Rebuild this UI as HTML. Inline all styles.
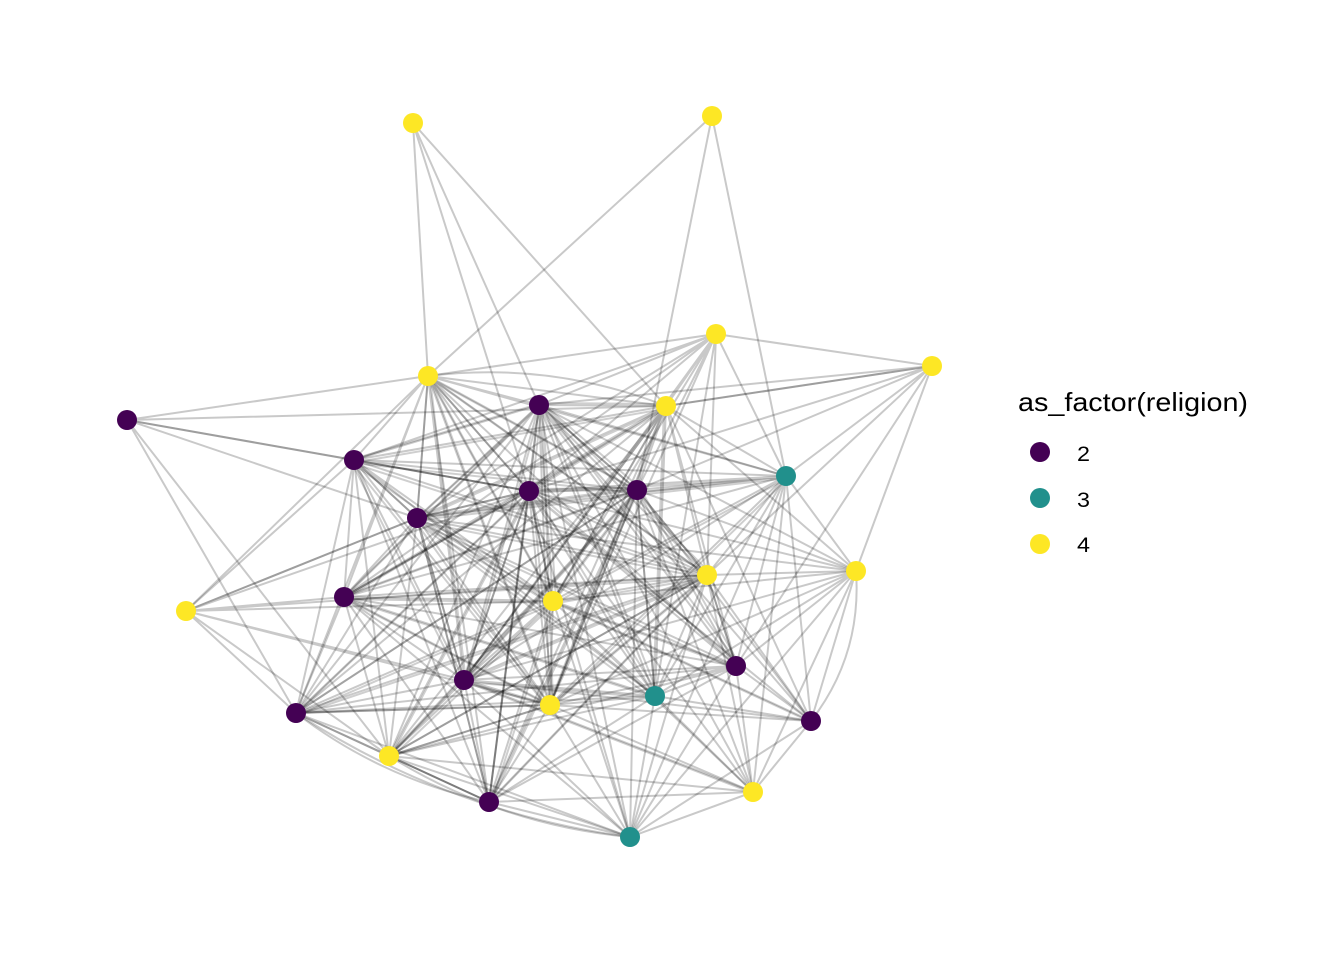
<!DOCTYPE html>
<html>
<head>
<meta charset="utf-8">
<style>
html,body{margin:0;padding:0;background:#fff;}
svg{display:block;}
</style>
</head>
<body>
<svg width="1344" height="960" viewBox="0 0 1344 960" xmlns="http://www.w3.org/2000/svg">
<rect width="1344" height="960" fill="#fff"/>
<g stroke="#000" stroke-opacity="0.21" stroke-width="2" fill="none" stroke-linecap="round">
<!-- A -->
<path d="M413 123L428 376M413 123L539 405M413 123L529 491M413 123L666 406"/>
<!-- B -->
<path d="M712 116L428 376M712 116L637 490M712 116L786 476"/>
<!-- C -->
<path d="M716 334L932 366M716 334L786 476M716 334L428 376M716 334L539 405M716 334L666 406M716 334L529 491M716 334L637 490M716 334L354 460M716 334L417 518M716 334L707 575M716 334L553 601M716 334L550 705M716 334L655 696M716 334L344 597M716 334L464 680"/>
<!-- D -->
<path d="M932 366L666 406M932 366L539 405M932 366L529 491M932 366L637 490M932 366L707 575M932 366L786 476M932 366L736 666M932 366L856 571"/>
<path d="M932 366L666 406"/>
<!-- F -->
<path d="M127 420L428 376M127 420L666 406M127 420L354 460M127 420L529 491M127 420L417 518M127 420L296 713M127 420L389 756"/>
<path d="M127 420L354 460"/>
<!-- E -->
<path d="M428 376L539 405M428 376L666 406M428 376L354 460M428 376L529 491M428 376L637 490M428 376L417 518M428 376L707 575M428 376L344 597M428 376L553 601M428 376L464 680M428 376L550 705M428 376L786 476M428 376L655 696M428 376L186 611M428 376L296 713M428 376L489 802M428 376L736 666"/>
<path d="M428 376L529 491M428 376L417 518"/>
<path d="M428 376Q551 361 666 406"/>
<!-- G -->
<path d="M539 405L666 406M539 405L354 460M539 405L529 491M539 405L637 490M539 405L417 518M539 405L707 575M539 405L344 597M539 405L553 601M539 405L736 666M539 405L464 680M539 405L655 696M539 405L550 705M539 405L296 713M539 405L389 756M539 405L489 802M539 405L786 476M539 405L811 721M539 405L753 792M539 405L630 837M539 405L856 571"/>
<path d="M539 405L637 490M539 405L529 491"/>
<!-- H -->
<path d="M666 406L354 460M666 406L529 491M666 406L637 490M666 406L417 518M666 406L707 575M666 406L344 597M666 406L553 601M666 406L464 680M666 406L655 696M666 406L550 705M666 406L786 476M666 406L856 571M666 406L736 666M666 406L489 802M666 406L389 756M666 406L296 713M666 406L811 721"/>
<!-- I -->
<path d="M354 460L529 491M354 460L637 490M354 460L417 518M354 460L707 575M354 460L344 597M354 460L553 601M354 460L464 680M354 460L550 705M354 460L296 713M354 460L389 756M354 460L489 802M354 460L786 476M354 460L186 611M354 460L655 696"/>
<path d="M354 460L417 518M354 460L529 491"/>
<!-- J -->
<path d="M786 476L529 491M786 476L637 490M786 476L417 518M786 476L707 575M786 476L856 571M786 476L553 601M786 476L736 666M786 476L655 696M786 476L550 705M786 476L811 721M786 476L753 792M786 476L344 597M786 476L464 680M786 476L630 837"/>
<!-- K -->
<path d="M529 491L637 490M529 491L417 518M529 491L707 575M529 491L344 597M529 491L553 601M529 491L736 666M529 491L464 680M529 491L655 696M529 491L550 705M529 491L296 713M529 491L389 756M529 491L489 802M529 491L630 837M529 491L856 571M529 491L811 721M529 491L753 792"/>
<path d="M529 491L464 680M529 491L489 802M529 491L553 601M529 491L417 518"/>
<!-- L -->
<path d="M637 490L417 518M637 490L707 575M637 490L344 597M637 490L553 601M637 490L736 666M637 490L464 680M637 490L655 696M637 490L550 705M637 490L296 713M637 490L389 756M637 490L489 802M637 490L630 837M637 490L856 571M637 490L811 721M637 490L753 792"/>
<path d="M637 490L655 696M637 490L550 705M637 490L707 575"/>
<!-- M -->
<path d="M417 518L707 575M417 518L344 597M417 518L553 601M417 518L736 666M417 518L464 680M417 518L655 696M417 518L550 705M417 518L296 713M417 518L389 756M417 518L489 802M417 518L186 611M417 518L856 571"/>
<path d="M417 518L464 680M417 518L489 802"/>
<!-- N -->
<path d="M707 575L856 571M707 575L344 597M707 575L553 601M707 575L736 666M707 575L464 680M707 575L655 696M707 575L550 705M707 575L296 713M707 575L811 721M707 575L389 756M707 575L753 792M707 575L489 802M707 575L630 837"/>
<path d="M707 575L389 756M707 575L736 666"/>
<!-- O -->
<path d="M856 571L736 666M856 571L655 696M856 571L550 705M856 571L811 721M856 571L753 792M856 571L553 601M856 571L630 837M856 571L464 680"/>
<path d="M856 571Q862 655 811 721"/>
<!-- P -->
<path d="M186 611L417 518M186 611L529 491M186 611L344 597M186 611L553 601M186 611L464 680M186 611L550 705M186 611L296 713M186 611L389 756M186 611L707 575"/>
<!-- Q -->
<path d="M344 597L553 601M344 597L464 680M344 597L655 696M344 597L550 705M344 597L296 713M344 597L389 756M344 597L489 802M344 597L736 666M344 597L630 837"/>
<!-- R -->
<path d="M553 601L736 666M553 601L464 680M553 601L655 696M553 601L550 705M553 601L296 713M553 601L389 756M553 601L489 802M553 601L630 837M553 601L811 721M553 601L753 792"/>
<!-- S -->
<path d="M736 666L464 680M736 666L655 696M736 666L550 705M736 666L296 713M736 666L811 721M736 666L389 756M736 666L753 792M736 666L489 802M736 666L630 837"/>
<!-- T -->
<path d="M464 680L655 696M464 680L550 705M464 680L296 713M464 680L389 756M464 680L489 802M464 680L630 837M464 680L753 792M464 680L811 721"/>
<!-- U -->
<path d="M655 696L550 705M655 696L296 713M655 696L389 756M655 696L489 802M655 696L630 837M655 696L753 792M655 696L811 721"/>
<!-- V -->
<path d="M550 705L296 713M550 705L389 756M550 705L489 802M550 705L630 837M550 705L753 792M550 705L811 721"/>
<path d="M550 705L389 756M550 705L296 713"/>
<!-- W -->
<path d="M296 713L389 756M296 713L489 802M296 713L630 837"/>
<path d="M296 713Q382 779 489 802"/>
<path d="M296 713Q449 813 630 837"/>
<path d="M296 713L389 756M296 713L489 802"/>
<!-- Y -->
<path d="M389 756L489 802M389 756L630 837M389 756L753 792"/>
<path d="M389 756Q500 825 630 837"/>
<!-- AA -->
<path d="M489 802L630 837M489 802L753 792"/>
<!-- AB -->
<path d="M630 837L753 792M630 837L811 721"/>
<!-- Z -->
<path d="M753 792L811 721"/>
</g>
<!-- multi-edge duplicates (slightly offset) -->
<g stroke="#000" stroke-opacity="0.19" stroke-width="2" fill="none" stroke-linecap="round">
<g transform="translate(3,-2)">
<path d="M539 405L666 406M539 405L354 460M539 405L529 491M539 405L637 490M539 405L417 518M539 405L707 575M539 405L344 597M539 405L553 601M539 405L736 666M539 405L464 680M539 405L655 696M539 405L550 705"/>
<path d="M529 491L637 490M529 491L707 575M529 491L344 597M529 491L736 666M529 491L655 696M529 491L550 705M529 491L296 713M529 491L389 756"/>
<path d="M637 490L417 518M637 490L344 597M637 490L553 601M637 490L736 666M637 490L464 680M637 490L296 713M637 490L389 756M637 490L489 802"/>
</g>
<g transform="translate(-2,3)">
<path d="M666 406L354 460M666 406L529 491M666 406L417 518M666 406L344 597M666 406L553 601M666 406L464 680M666 406L655 696M666 406L550 705"/>
<path d="M417 518L707 575M417 518L553 601M417 518L736 666M417 518L655 696M417 518L550 705"/>
<path d="M354 460L637 490M354 460L707 575M354 460L553 601M354 460L464 680M354 460L550 705"/>
<path d="M707 575L344 597M707 575L553 601M707 575L464 680M707 575L550 705M707 575L296 713M707 575L489 802"/>
</g>
<g transform="translate(2,2)">
<path d="M553 601L736 666M553 601L464 680M553 601L296 713M553 601L389 756M553 601L489 802M553 601L811 721"/>
<path d="M786 476L529 491M786 476L637 490M786 476L417 518M786 476L553 601M786 476L550 705"/>
<path d="M428 376L637 490M428 376L707 575M428 376L553 601M428 376L464 680M428 376L550 705"/>
<path d="M464 680L655 696M464 680L550 705M464 680L753 792"/>
<path d="M344 597L553 601M344 597L655 696M344 597L550 705"/>
</g>
</g>
<g stroke="none">
<g fill="#FDE725">
<circle cx="413" cy="123" r="10"/>
<circle cx="712" cy="116" r="10"/>
<circle cx="716" cy="334" r="10"/>
<circle cx="932" cy="366" r="10"/>
<circle cx="428" cy="376" r="10"/>
<circle cx="666" cy="406" r="10"/>
<circle cx="707" cy="575" r="10"/>
<circle cx="856" cy="571" r="10"/>
<circle cx="186" cy="611" r="10"/>
<circle cx="553" cy="601" r="10"/>
<circle cx="550" cy="705" r="10"/>
<circle cx="389" cy="756" r="10"/>
<circle cx="753" cy="792" r="10"/>
</g>
<g fill="#440154">
<circle cx="127" cy="420" r="10"/>
<circle cx="539" cy="405" r="10"/>
<circle cx="354" cy="460" r="10"/>
<circle cx="529" cy="491" r="10"/>
<circle cx="637" cy="490" r="10"/>
<circle cx="417" cy="518" r="10"/>
<circle cx="344" cy="597" r="10"/>
<circle cx="736" cy="666" r="10"/>
<circle cx="464" cy="680" r="10"/>
<circle cx="296" cy="713" r="10"/>
<circle cx="811" cy="721" r="10"/>
<circle cx="489" cy="802" r="10"/>
</g>
<g fill="#21908C">
<circle cx="786" cy="476" r="10"/>
<circle cx="655" cy="696" r="10"/>
<circle cx="630" cy="837" r="10"/>
</g>
</g>
<g font-family="'Liberation Sans', Arial, sans-serif" fill="#000">
<text x="1018" y="411" font-size="26" textLength="230" lengthAdjust="spacingAndGlyphs">as_factor(religion)</text>
<circle cx="1040" cy="452" r="10" fill="#440154"/>
<circle cx="1040" cy="498" r="10" fill="#21908C"/>
<circle cx="1040" cy="544" r="10" fill="#FDE725"/>
<text x="1077" y="461" font-size="21" textLength="13" lengthAdjust="spacingAndGlyphs">2</text>
<text x="1077" y="507" font-size="21" textLength="13" lengthAdjust="spacingAndGlyphs">3</text>
<text x="1077" y="552" font-size="21" textLength="13" lengthAdjust="spacingAndGlyphs">4</text>
</g>
</svg>
</body>
</html>
